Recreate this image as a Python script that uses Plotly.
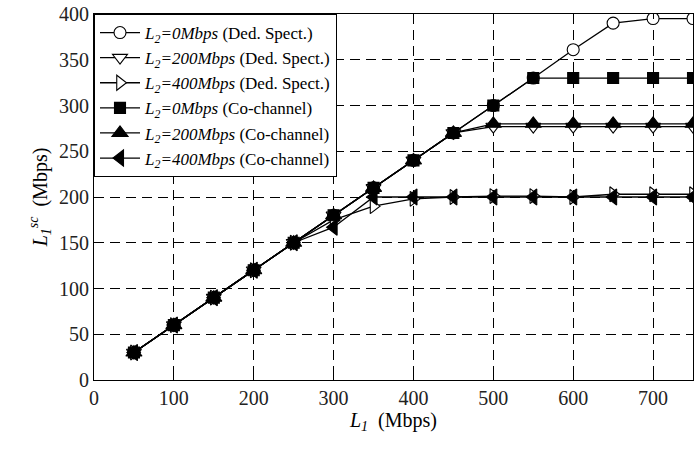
import plotly.graph_objects as go

# Offered load on link 1 (Mbps)
l1_load = [50, 100, 150, 200, 250, 300, 350, 400, 450, 500, 550, 600, 650, 700, 750]

# Served load L1^sc (Mbps) for each scenario
ded_l2_0 = [30, 60, 90, 120, 150, 180, 210, 240, 270, 300, 330, 361, 390, 395, 395]
ded_l2_200 = [30, 60, 90, 120, 150, 180, 210, 240, 270, 277, 277, 277, 277, 277, 277]
ded_l2_400 = [30, 60, 90, 120, 150, 175, 190, 198, 200, 201, 201, 200, 203, 203, 203]
co_l2_0 = [30, 60, 90, 120, 150, 180, 210, 240, 270, 300, 330, 330, 330, 330, 330]
co_l2_200 = [30, 60, 90, 120, 150, 180, 210, 240, 270, 280, 280, 280, 280, 280, 280]
co_l2_400 = [30, 60, 90, 120, 150, 167, 200, 200, 200, 200, 200, 200, 200, 200, 200]

x_ticks = [0, 100, 200, 300, 400, 500, 600, 700]
y_ticks = [0, 50, 100, 150, 200, 250, 300, 350, 400]

series = [
    ("<i>L<sub>2</sub>=0Mbps</i> (Ded. Spect.)", ded_l2_0, "circle", "white", 12),
    ("<i>L<sub>2</sub>=200Mbps</i> (Ded. Spect.)", ded_l2_200, "triangle-down", "white", 13),
    ("<i>L<sub>2</sub>=400Mbps</i> (Ded. Spect.)", ded_l2_400, "triangle-right", "white", 13),
    ("<i>L<sub>2</sub>=0Mbps</i> (Co-channel)", co_l2_0, "square", "black", 11),
    ("<i>L<sub>2</sub>=200Mbps</i> (Co-channel)", co_l2_200, "triangle-up", "black", 14),
    ("<i>L<sub>2</sub>=400Mbps</i> (Co-channel)", co_l2_400, "triangle-left", "black", 14),
]

fig = go.Figure()
for name, ys, sym, fill, size in series:
    fig.add_trace(go.Scatter(
        x=l1_load, y=ys, name=name, mode="lines+markers",
        line=dict(color="black", width=1.3),
        marker=dict(symbol=sym, size=size, color=fill,
                    line=dict(color="black", width=1.1)),
    ))

font_family = "Liberation Serif, Times New Roman, serif"
axis_common = dict(
    showline=True, linecolor="black", linewidth=1, mirror="ticks",
    ticks="inside", ticklen=5, tickcolor="black",
    showgrid=True, gridcolor="black", griddash="10px,6px", gridwidth=0.9,
    zeroline=False, tickfont=dict(family=font_family, size=20, color="#222"),
)

fig.update_layout(
    width=697, height=449,
    margin=dict(l=94, r=3, t=12, b=69),
    paper_bgcolor="white", plot_bgcolor="white",
    font=dict(family=font_family, color="black"),
    showlegend=True,
    legend=dict(
        x=0, y=1, xanchor="left", yanchor="top",
        bgcolor="white", bordercolor="black", borderwidth=1,
        font=dict(family=font_family, size=17, color="black"),
        tracegroupgap=0, itemwidth=40,
    ),
    xaxis=dict(
        range=[0, 750], tickvals=x_ticks,
        title=dict(text="<i>L<sub>1</sub></i>  (Mbps)", standoff=0,
                   font=dict(family=font_family, size=20)),
        **axis_common,
    ),
    yaxis=dict(
        range=[0, 400], tickvals=y_ticks,
        title=dict(text="<i>L<sub>1</sub><sup>sc</sup></i>  (Mbps)", standoff=6,
                   font=dict(family=font_family, size=20)),
        **axis_common,
    ),
)

fig.write_html("out.html")
